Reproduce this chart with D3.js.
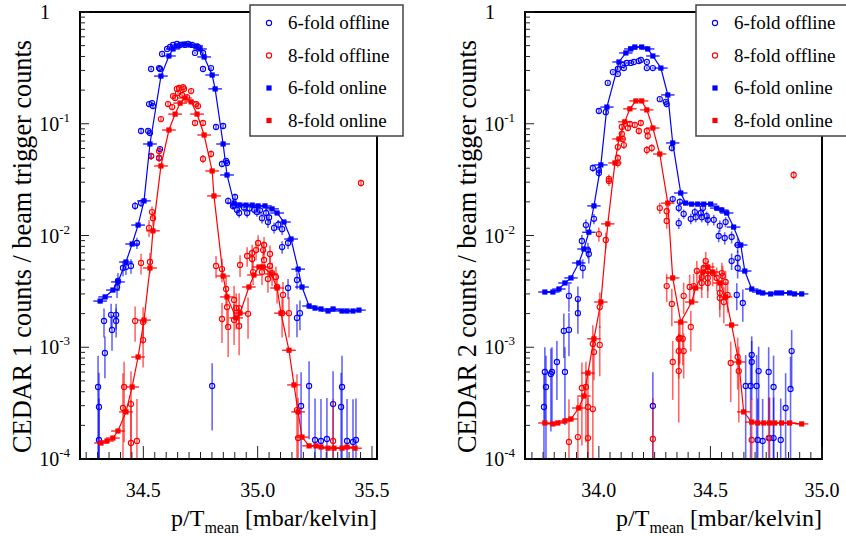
<!DOCTYPE html>
<html><head><meta charset="utf-8">
<script src="https://cdn.jsdelivr.net/npm/d3@7"></script>
<style>
body{margin:0;background:#fff}
svg{display:block}
text{font-family:'Liberation Serif','Times New Roman',Times,serif}
</style>
</head><body>
<svg id="chart" width="846" height="536" font-family="Liberation Serif"></svg>
<script>
// ---- CEDAR 1 : online rates [p/T, counts per trigger]
const on6L = [[34.311,2.59e-3],[34.333,2.82e-3],[34.367,3.25e-3],[34.389,3.84e-3],[34.424,5.79e-3],[34.451,8.39e-3],[34.477,1.24e-2],[34.503,2.04e-2],[34.529,6.59e-2],[34.577,0.267],[34.612,0.404],[34.630,0.467],[34.652,0.496],[34.678,0.517],[34.704,0.507],[34.731,0.497],[34.748,0.467],[34.766,0.396],[34.801,0.273],[34.814,0.205],[34.849,0.0659],[34.866,0.0348],[34.897,0.0195],[34.923,0.0187],[34.949,0.0187],[34.976,0.0187],[35.002,0.0184],[35.032,0.0184],[35.063,0.0173],[35.085,0.0159],[35.115,0.0132],[35.146,9.3e-3],[35.177,5.0e-3],[35.194,3.46e-3],[35.225,2.34e-3],[35.251,2.24e-3],[35.277,2.2e-3],[35.308,2.11e-3],[35.330,2.2e-3],[35.369,2.11e-3],[35.391,2.11e-3],[35.417,2.11e-3],[35.443,2.15e-3]];
const on8L = [[34.315,1.39e-4],[34.341,1.45e-4],[34.367,1.54e-4],[34.389,1.78e-4],[34.424,2.64e-4],[34.451,4.41e-4],[34.477,8.18e-4],[34.503,1.75e-3],[34.529,5.12e-3],[34.542,1.10e-2],[34.577,4.19e-2],[34.612,0.0879],[34.639,0.122],[34.661,0.153],[34.682,0.170],[34.709,0.157],[34.735,0.122],[34.766,0.0793],[34.801,0.0378],[34.809,0.0226],[34.849,4.34e-3],[34.866,2.82e-3],[34.906,1.83e-3],[34.923,2.02e-3],[34.962,3.46e-3],[34.984,4.43e-3],[35.006,5.23e-3],[35.024,5.23e-3],[35.059,4.53e-3],[35.085,3.39e-3],[35.102,2.02e-3],[35.137,9.4e-4],[35.159,4.6e-4],[35.177,2.64e-4],[35.194,1.57e-4],[35.225,1.31e-4],[35.255,1.31e-4],[35.277,1.28e-4],[35.308,1.25e-4],[35.334,1.25e-4],[35.369,1.25e-4],[35.391,1.28e-4],[35.426,1.25e-4]];
// ---- CEDAR 1 : offline rates [p/T, counts per trigger, error]
const off6L = [[34.490,0.0861,0.004],[34.521,0.0861,0.004],[34.529,0.0826,0.004],[34.534,0.0514,0.003],[34.573,0.0594,0.003],[34.569,0.0494,0.003],[34.538,0.153,0.006],[34.542,0.144,0.006],[34.525,0.150,0.006],[34.534,0.309,0.01],[34.573,0.309,0.01],[34.569,0.315,0.01],[34.582,0.421,0.01],[34.604,0.467,0.01],[34.617,0.486,0.01],[34.630,0.507,0.01],[34.647,0.517,0.01],[34.661,0.507,0.01],[34.682,0.507,0.01],[34.696,0.517,0.01],[34.713,0.507,0.01],[34.726,0.430,0.01],[34.739,0.486,0.01],[34.761,0.430,0.01],[34.761,0.309,0.01],[34.796,0.315,0.01],[34.818,0.0935,0.004],[34.849,0.0955,0.004],[34.844,0.0437,0.003],[34.862,0.0465,0.003],[34.866,0.0446,0.003],
[34.464,0.0184,0.0015],[34.490,0.0195,0.0015],[34.472,8.57e-3,0.001],[34.446,5.34e-3,0.0008],[34.424,5.23e-3,0.0008],[34.411,5.12e-3,0.0008],[34.389,3.92e-3,0.0007],[34.385,3.46e-3,0.0007],
[34.871,0.0204,0.0015],[34.897,0.0187,0.0015],[34.910,0.0169,0.0015],[34.901,0.0221,0.0015],[34.892,0.0184,0.0015],[34.919,0.0159,0.0015],[34.940,0.0178,0.0015],[34.954,0.0159,0.0015],[34.965,0.0175,0.0015],[34.985,0.0170,0.0015],[34.997,0.0162,0.0015],[35.010,0.0168,0.0015],[35.019,0.0143,0.0015],[35.037,0.0159,0.0015],[35.045,0.0132,0.0015],[35.050,0.0145,0.0015],[35.072,0.0117,0.0013],[35.090,0.0125,0.0013],[35.107,0.0114,0.0013],[35.107,7.88e-3,0.001],[35.133,8.57e-3,0.001],[35.172,4.00e-3,0.0007],[35.133,3.39e-3,0.0007],[35.185,2.02e-3,0.0006],[35.172,1.83e-3,0.0006],
[34.328,1.72e-3,0.0005],[34.359,1.95e-3,0.0005],[34.363,1.43e-3,0.0005],[34.381,1.95e-3,0.0005],[34.381,1.72e-3,0.0005],[34.332,8.88e-4,0.00036],[34.302,4.41e-4,0.0004],[34.306,2.92e-4,0.0003],[34.306,1.48e-4,0.0002],[34.801,4.50e-4,0.00027],[35.190,2.98e-4,0.0003],[35.225,4.50e-4,0.0003],[35.251,1.48e-4,0.0002],[35.277,1.45e-4,0.0002],[35.303,1.51e-4,0.0002],[35.330,3.10e-4,0.0003],[35.365,2.92e-4,0.0003],[35.369,4.41e-4,0.0004],[35.391,1.45e-4,0.0002],[35.417,1.42e-4,0.0002],[35.430,1.48e-4,0.0002]];
const off8L = [[34.647,0.205,0.01],[34.656,0.209,0.01],[34.674,0.213,0.01],[34.678,0.205,0.01],[34.709,0.196,0.01],[34.652,0.188,0.01],[34.669,0.181,0.01],[34.691,0.173,0.01],[34.630,0.177,0.01],[34.608,0.150,0.008],[34.626,0.141,0.008],[34.639,0.170,0.008],[34.731,0.150,0.008],[34.739,0.144,0.008],[34.577,0.110,0.006],[34.726,0.1016,0.006],[34.761,0.1016,0.006],[34.534,0.0514,0.004],[34.569,0.0570,0.004],[34.569,0.0494,0.004],[34.761,0.0484,0.004],[34.796,0.0536,0.004],[34.538,0.0162,0.002],[34.542,0.0143,0.002],[34.525,0.0117,0.002],[34.490,5.68e-3,0.0012],[34.529,5.79e-3,0.0012],
[34.818,5.34e-3,0.0012],[34.844,5.01e-3,0.0012],[34.862,3.32e-3,0.001],[34.866,2.29e-3,0.0008],[34.897,2.65e-3,0.0009],[34.923,5.45e-3,0.0012],[34.954,6.56e-3,0.0013],[34.976,6.16e-3,0.0013],[34.976,6.97e-3,0.0013],[34.993,7.41e-3,0.0014],[35.002,8.57e-3,0.0015],[35.024,7.41e-3,0.0014],[35.028,8.22e-3,0.0015],[35.028,6.04e-3,0.0013],[35.054,6.83e-3,0.0013],[34.980,4.71e-3,0.0011],[35.019,4.71e-3,0.0011],[35.054,5.34e-3,0.0012],[35.063,4.61e-3,0.0011],[35.045,4.08e-3,0.001],[35.080,4.25e-3,0.001],[35.085,3.46e-3,0.001],[35.111,2.94e-3,0.0009],[35.107,2.02e-3,0.0008],[35.137,2.02e-3,0.0008],[34.906,2.24e-3,0.0008],[34.919,2.24e-3,0.0008],[34.844,1.79e-3,0.0007],[34.871,1.52e-3,0.0007],[34.897,1.75e-3,0.0007],[34.958,1.99e-3,0.0008],[34.919,1.55e-3,0.0007],[35.452,0.0295,0.002],
[34.464,1.72e-3,0.0006],[34.499,1.68e-3,0.0006],[34.499,1.16e-3,0.0005],[34.416,4.41e-4,0.0003],[34.411,2.86e-4,0.0003],[34.446,3.10e-4,0.0003],[34.446,1.39e-4,0.0002],[34.472,1.45e-4,0.0002],[35.172,2.74e-4,0.0003],[35.177,1.54e-4,0.0002],[35.330,1.45e-4,0.0002]];

// ---- CEDAR 2 : online rates
const on6R = [[33.758,3.12e-3],[33.794,3.12e-3],[33.821,3.32e-3],[33.848,3.76e-3],[33.875,4.17e-3],[33.910,5.68e-3],[33.933,7.57e-3],[33.955,1.07e-2],[33.978,1.84e-2],[34.009,4.28e-2],[34.036,0.141],[34.090,0.357],[34.121,0.430],[34.143,0.467],[34.161,0.486],[34.192,0.486],[34.219,0.467],[34.242,0.404],[34.278,0.315],[34.309,0.181],[34.331,0.0673],[34.367,0.0240],[34.389,0.0195],[34.416,0.0191],[34.443,0.0191],[34.470,0.0191],[34.501,0.0191],[34.528,0.0176],[34.551,0.0169],[34.573,0.0159],[34.604,0.0119],[34.636,8.22e-3],[34.654,4.81e-3],[34.685,3.32e-3],[34.716,3.12e-3],[34.734,3.06e-3],[34.770,3.0e-3],[34.797,3.06e-3],[34.819,3.06e-3],[34.855,3.06e-3],[34.877,3.0e-3],[34.909,3.0e-3]];
const on8R = [[33.758,2.10e-4],[33.794,2.06e-4],[33.816,2.10e-4],[33.848,2.19e-4],[33.875,2.28e-4],[33.910,2.86e-4],[33.933,3.66e-4],[33.951,5.88e-4],[33.978,1.19e-3],[34.009,2.54e-3],[34.040,0.0127],[34.072,0.0446],[34.090,0.0731],[34.116,0.104],[34.139,0.136],[34.166,0.160],[34.192,0.160],[34.215,0.133],[34.242,0.0916],[34.273,0.0536],[34.309,0.0195],[34.331,4.17e-3],[34.367,1.68e-3],[34.416,2.54e-3],[34.434,3.39e-3],[34.466,4.71e-3],[34.488,5.23e-3],[34.510,4.71e-3],[34.542,3.76e-3],[34.568,2.82e-3],[34.595,1.58e-3],[34.627,7.38e-4],[34.649,2.64e-4],[34.685,2.14e-4],[34.712,2.10e-4],[34.739,2.10e-4],[34.765,2.10e-4],[34.788,2.10e-4],[34.819,2.10e-4],[34.855,2.10e-4],[34.909,2.06e-4]];
// ---- CEDAR 2 : offline rates
const off6R = [[33.973,0.0402,0.003],[34.000,0.0385,0.003],[34.000,0.0362,0.003],[34.000,0.130,0.006],[34.031,0.127,0.006],[34.040,0.232,0.008],[34.063,0.290,0.008],[34.085,0.279,0.008],[34.085,0.309,0.008],[34.107,0.336,0.008],[34.112,0.315,0.008],[34.125,0.350,0.008],[34.143,0.350,0.008],[34.157,0.357,0.008],[34.179,0.364,0.008],[34.188,0.372,0.008],[34.215,0.357,0.008],[34.215,0.315,0.008],[34.242,0.315,0.008],[34.273,0.166,0.006],[34.300,0.157,0.006],[34.304,0.150,0.006],[34.327,0.0607,0.004],
[33.942,0.0124,0.0015],[33.978,0.0141,0.0015],[33.924,8.93e-3,0.0012],[33.951,7.41e-3,0.0012],[33.955,6.83e-3,0.0012],[33.928,5.12e-3,0.001],[33.866,2.88e-3,0.0008],[33.906,2.70e-3,0.0008],[33.906,2.02e-3,0.0007],
[34.331,0.0212,0.0015],[34.363,0.0200,0.0015],[34.358,0.0176,0.0015],[34.380,0.0156,0.0015],[34.358,0.0129,0.0015],[34.412,0.0141,0.0015],[34.430,0.0162,0.0015],[34.434,0.0146,0.0015],[34.457,0.0159,0.0015],[34.461,0.0146,0.0015],[34.483,0.0149,0.0015],[34.488,0.0138,0.0015],[34.466,0.0176,0.0015],[34.515,0.0138,0.0015],[34.542,0.0122,0.0014],[34.568,0.0132,0.0014],[34.537,9.90e-3,0.0012],[34.564,9.50e-3,0.0012],[34.595,9.70e-3,0.0012],[34.622,8.22e-3,0.0012],[34.595,5.91e-3,0.001],[34.622,6.29e-3,0.001],[34.622,5.12e-3,0.001],[34.618,2.94e-3,0.0008],[34.645,2.49e-3,0.0008],
[33.866,1.43e-3,0.0006],[33.843,1.40e-3,0.0006],[33.812,7.38e-4,0.0004],[33.848,6.01e-4,0.0004],[33.790,6.01e-4,0.0004],[33.785,5.76e-4,0.0004],[33.758,6.01e-4,0.0004],[33.763,4.41e-4,0.0004],[33.754,2.92e-4,0.0003],[34.242,2.98e-4,0.0003],
[34.685,8.53e-4,0.0004],[34.685,7.38e-4,0.0004],[34.716,6.12e-4,0.0004],[34.761,6.01e-4,0.0004],[34.658,4.50e-4,0.0004],[34.680,4.50e-4,0.0004],[34.707,4.50e-4,0.0004],[34.783,4.41e-4,0.0004],[34.864,9.25e-4,0.0005],[34.859,4.23e-4,0.0004],[34.837,2.86e-4,0.0003],[34.712,1.48e-4,0.0002],[34.734,1.45e-4,0.0002],[34.765,1.54e-4,0.0002],[34.783,1.54e-4,0.0002],[34.815,1.48e-4,0.0002]];
const off8R = [[34.103,0.0935,0.006],[34.130,0.0916,0.006],[34.139,0.0995,0.006],[34.161,0.0975,0.006],[34.179,0.0861,0.006],[34.188,0.1016,0.006],[34.215,0.0861,0.006],[34.219,0.0777,0.006],[34.103,0.0810,0.006],[34.107,0.0731,0.005],[34.112,0.0645,0.005],[34.085,0.0619,0.005],[34.085,0.0494,0.004],[34.085,0.0446,0.004],[34.215,0.0582,0.005],[34.237,0.0607,0.005],[34.045,0.0321,0.003],[34.045,0.0308,0.003],[34.000,0.0103,0.0015],[34.031,9.12e-3,0.0015],[34.004,2.29e-3,0.0008],
[34.273,0.0176,0.002],[34.304,0.0165,0.002],[34.304,0.0135,0.002],[34.304,3.53e-3,0.001],[34.327,2.44e-3,0.0009],[34.380,2.88e-3,0.0009],[34.407,3.46e-3,0.001],[34.425,3.53e-3,0.001],[34.439,4.81e-3,0.0011],[34.461,4.25e-3,0.001],[34.461,3.76e-3,0.001],[34.479,5.91e-3,0.0012],[34.470,5.12e-3,0.0011],[34.488,4.81e-3,0.0011],[34.488,4.17e-3,0.001],[34.488,3.76e-3,0.001],[34.510,4.61e-3,0.0011],[34.528,4.17e-3,0.001],[34.551,4.61e-3,0.0011],[34.555,4.34e-3,0.001],[34.568,3.84e-3,0.001],[34.542,3.06e-3,0.0009],[34.542,2.76e-3,0.0009],[34.560,2.54e-3,0.0009],[34.577,2.94e-3,0.0009],[34.873,0.0348,0.003],
[33.866,1.42e-4,0.0002],[33.906,1.57e-4,0.0002],[33.924,4.32e-4,0.0003],[33.942,4.41e-4,0.0003],[33.951,2.92e-4,0.0003],[33.951,1.54e-4,0.0002],[33.973,2.80e-4,0.0003],[33.978,9.06e-4,0.0004],[33.973,1.07e-3,0.0005],[34.004,1.05e-3,0.0005],[34.242,1.51e-4,0.0002],[34.331,7.38e-4,0.0004],[34.358,6.12e-4,0.0004],[34.358,1.19e-3,0.0005],[34.358,9.25e-4,0.0004],[34.376,1.19e-3,0.0005],[34.380,9.25e-4,0.0004],[34.412,1.52e-3,0.0006],[34.363,1.21e-3,0.0005],[34.591,7.23e-4,0.0004],[34.622,8.18e-4,0.0004],[34.627,6.12e-4,0.0004],[34.685,1.48e-4,0.0002],[34.761,1.54e-4,0.0002]];

// axis settings
const yTickPowers = [0, -1, -2, -3, -4];
const legendLabels = ["6-fold offline", "8-fold offline", "6-fold online", "8-fold online"];
const BLUE = "#0000ff", RED = "#ff0000";
const xErrOnline = 0.03;
const SERIF = "'Liberation Serif','Times New Roman',Times,serif";

const panels = [
  {title: "CEDAR 1 counts / beam trigger counts", x0: 80, x1: 377, dom: [34.223, 35.522], labels: [34.5, 35.0, 35.5],
   on6: on6L, on8: on8L, off6: off6L, off8: off8L, legendX: 250},
  {title: "CEDAR 2 counts / beam trigger counts", x0: 525, x1: 822, dom: [33.669, 35.0], labels: [34.0, 34.5, 35.0],
   on6: on6R, on8: on8R, off6: off6R, off8: off8R, legendX: 696}
];
const TOP = 12, BOT = 459;
// vertical extent taken by the rotated y title
const Y_TITLE_SPAN = [40, 453];

const svg = d3.select("#chart");

panels.forEach((p, i) => {
  const x = d3.scaleLinear().domain(p.dom).range([p.x0, p.x1]);
  const y = d3.scaleLog().domain([1e-4, 1]).range([BOT, TOP]);
  const g = svg.append("g").style("font-family", SERIF);
  const clipId = "clip" + i;
  svg.append("clipPath").attr("id", clipId)
    .append("rect").attr("x", p.x0).attr("y", TOP).attr("width", p.x1 - p.x0).attr("height", BOT - TOP);
  const plot = g.append("g").attr("clip-path", `url(#${clipId})`);

  // offline: error bars then open circles
  [[p.off6, BLUE], [p.off8, RED]].forEach(([data, col]) => {
    plot.append("g").selectAll("line").data(data).join("line")
      .attr("x1", d => x(d[0])).attr("x2", d => x(d[0]))
      .attr("y1", d => y(d[1] + d[2]))
      .attr("y2", d => d[1] - d[2] > 1e-6 ? y(d[1] - d[2]) : BOT + 5)
      .attr("stroke", col).attr("stroke-opacity", 0.6).attr("stroke-width", 1.6);
  });
  [[p.off6, BLUE], [p.off8, RED]].forEach(([data, col]) => {
    plot.append("g").selectAll("circle").data(data).join("circle")
      .attr("cx", d => x(d[0])).attr("cy", d => y(d[1])).attr("r", 2.6)
      .attr("fill", "none").attr("stroke", col).attr("stroke-width", 1.1);
  });

  // online: connecting line, horizontal error bars, filled squares
  [[p.on6, BLUE], [p.on8, RED]].forEach(([data, col]) => {
    plot.append("path").datum(data)
      .attr("d", d3.line().x(d => x(d[0])).y(d => y(d[1])))
      .attr("fill", "none").attr("stroke", col).attr("stroke-width", 1.2);
    plot.append("g").selectAll("line").data(data).join("line")
      .attr("x1", d => x(d[0] - xErrOnline)).attr("x2", d => x(d[0] + xErrOnline))
      .attr("y1", d => y(d[1])).attr("y2", d => y(d[1]))
      .attr("stroke", col).attr("stroke-width", 1.2);
    plot.append("g").selectAll("rect").data(data).join("rect")
      .attr("x", d => x(d[0]) - 2.6).attr("y", d => y(d[1]) - 2.6)
      .attr("width", 5.2).attr("height", 5.2).attr("fill", col);
  });

  // frame
  g.append("rect").attr("x", p.x0).attr("y", TOP).attr("width", p.x1 - p.x0).attr("height", BOT - TOP)
    .attr("fill", "none").attr("stroke", "#000").attr("stroke-width", 2);

  // x ticks
  const minor = d3.range(Math.ceil(p.dom[0] / 0.05), Math.floor(p.dom[1] / 0.05) + 1).map(k => k * 0.05);
  g.append("g").selectAll("line").data(minor).join("line")
    .attr("x1", d => x(d)).attr("x2", d => x(d))
    .attr("y1", BOT).attr("y2", d => BOT - (Math.abs(d * 2 - Math.round(d * 2)) < 1e-6 ? 13 : 7))
    .attr("stroke", "#222").attr("stroke-width", 1);
  g.append("g").selectAll("text").data(p.labels).join("text")
    .attr("x", d => x(d)).attr("y", 497).attr("text-anchor", "middle")
    .attr("font-size", 20).text(d => d.toFixed(1));

  // y ticks (log)
  const yMinor = [];
  yTickPowers.forEach(e => { if (e < 0) for (let k = 2; k <= 9; k++) yMinor.push(k * Math.pow(10, e)); });
  g.append("g").selectAll("line").data(yMinor).join("line")
    .attr("x1", p.x0).attr("x2", p.x0 + 5).attr("y1", d => y(d)).attr("y2", d => y(d))
    .attr("stroke", "#222").attr("stroke-width", 1);
  g.append("g").selectAll("line").data(yTickPowers).join("line")
    .attr("x1", p.x0).attr("x2", p.x0 + 9).attr("y1", d => y(Math.pow(10, d))).attr("y2", d => y(Math.pow(10, d)))
    .attr("stroke", "#222").attr("stroke-width", 1);
  const yl = g.append("g").selectAll("text").data(yTickPowers).join("text")
    .attr("y", d => y(Math.pow(10, d)) + 7).attr("font-size", 20);
  yl.each(function (d) {
    const t = d3.select(this);
    if (d === 0) {
      t.attr("x", p.x0 - 35).attr("text-anchor", "middle").text("1");
    } else {
      t.attr("x", p.x0 - 10).attr("text-anchor", "end");
      t.append("tspan").text("10");
      t.append("tspan").attr("dy", -9).attr("font-size", 13).text(String(d));
    }
  });

  // axis titles: y title sized to fill its span
  const yt = g.append("text").attr("text-anchor", "middle").attr("font-size", 24).text(p.title);
  const len = yt.node().getComputedTextLength();
  const fs = 24 * (Y_TITLE_SPAN[1] - Y_TITLE_SPAN[0]) / len;
  yt.attr("font-size", fs)
    .attr("transform", `translate(${p.x0 - 58 + fs * 0.34},${(Y_TITLE_SPAN[0] + Y_TITLE_SPAN[1]) / 2}) rotate(-90)`);
  const xt = g.append("text").attr("x", p.x1).attr("y", 526).attr("text-anchor", "end").attr("font-size", 24);
  xt.append("tspan").text("p/T");
  xt.append("tspan").attr("dy", 7).attr("font-size", 16).text("mean");
  xt.append("tspan").attr("dy", -7).text(" [mbar/kelvin]");

  // legend
  const lg = svg.append("g").attr("transform", `translate(${p.legendX},5)`).style("font-family", SERIF);
  lg.append("rect").attr("x", 0).attr("y", 0).attr("width", 153).attr("height", 131)
    .attr("fill", "#fff").attr("stroke", "#444").attr("stroke-width", 1.5);
  legendLabels.forEach((lab, k) => {
    const cy = 18 + k * 32.5;
    const col = k % 2 === 0 ? BLUE : RED;
    if (k < 2) {
      lg.append("circle").attr("cx", 19).attr("cy", cy).attr("r", 2.6)
        .attr("fill", "none").attr("stroke", col).attr("stroke-width", 1.1);
    } else {
      lg.append("rect").attr("x", 16.4).attr("y", cy - 2.6).attr("width", 5.2).attr("height", 5.2).attr("fill", col);
    }
    lg.append("text").attr("x", 38).attr("y", cy + 6).attr("font-size", 19).text(lab);
  });
});
</script>
</body></html>
